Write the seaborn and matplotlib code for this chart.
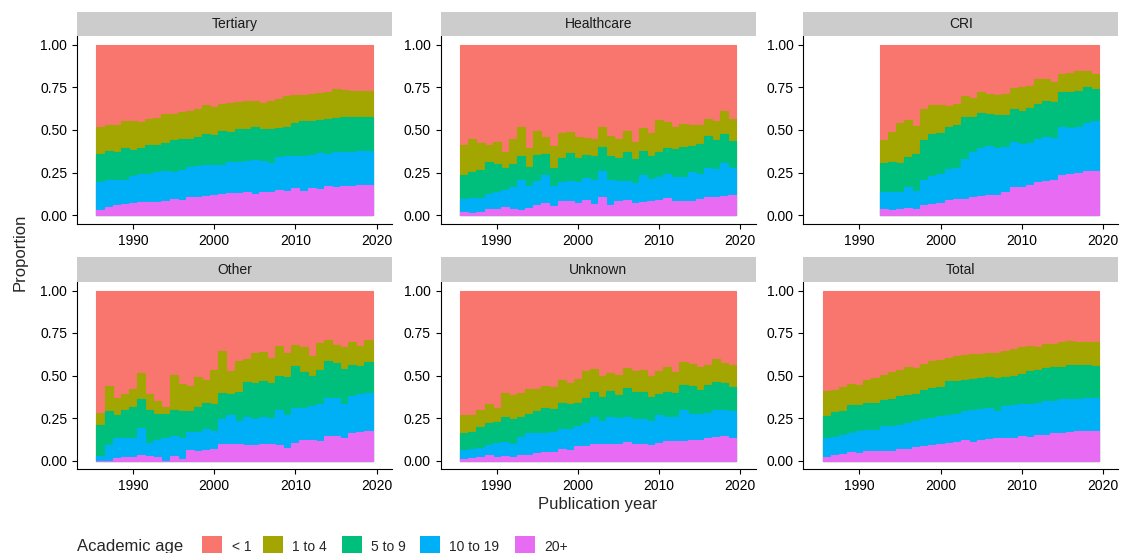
import numpy as np
import pandas as pd
import matplotlib
matplotlib.use("Agg")
import matplotlib.pyplot as plt
import seaborn as sns
from matplotlib.patches import Rectangle

# ---------------- data ----------------
years = list(range(1986, 2020))
cri_years = list(range(1993, 2020))
age_groups = ["< 1", "1 to 4", "5 to 9", "10 to 19", "20+"]
age_colors = ["#F8766D", "#A3A500", "#00BF7D", "#00B0F6", "#E76BF3"]
panel_names = ["Tertiary", "Healthcare", "CRI", "Other", "Unknown", "Total"]
x_ticks = [1990, 2000, 2010, 2020]
y_ticks = [0.0, 0.25, 0.50, 0.75, 1.00]
y_tick_labels = ["0.00", "0.25", "0.50", "0.75", "1.00"]

# cumulative upper edge of each band (the "< 1" band always reaches 1.00)
tertiary_top_1to4 = [0.52, 0.53, 0.53, 0.55, 0.55, 0.545, 0.565, 0.57, 0.595, 0.595, 0.605, 0.61, 0.62, 0.645, 0.635, 0.65, 0.66,
                     0.665, 0.67, 0.67, 0.66, 0.67, 0.68, 0.70, 0.705, 0.705, 0.71, 0.715, 0.72, 0.74, 0.735, 0.73, 0.73, 0.73]
tertiary_top_5to9 = [0.36, 0.375, 0.37, 0.395, 0.385, 0.395, 0.41, 0.415, 0.425, 0.44, 0.445, 0.45, 0.46, 0.475, 0.47, 0.495, 0.49,
                     0.505, 0.505, 0.515, 0.505, 0.505, 0.51, 0.52, 0.54, 0.55, 0.555, 0.56, 0.565, 0.57, 0.575, 0.575, 0.575, 0.575]
tertiary_top_10to19 = [0.195, 0.205, 0.205, 0.21, 0.23, 0.24, 0.245, 0.255, 0.26, 0.255, 0.265, 0.285, 0.29, 0.295, 0.295, 0.295, 0.31,
                       0.315, 0.32, 0.325, 0.32, 0.305, 0.34, 0.35, 0.35, 0.35, 0.355, 0.365, 0.36, 0.37, 0.37, 0.37, 0.375, 0.375]
tertiary_top_20plus = [0.03, 0.05, 0.06, 0.065, 0.07, 0.08, 0.08, 0.08, 0.085, 0.095, 0.09, 0.11, 0.11, 0.115, 0.12, 0.125, 0.13,
                       0.13, 0.135, 0.125, 0.14, 0.135, 0.15, 0.145, 0.16, 0.145, 0.16, 0.155, 0.17, 0.165, 0.17, 0.175, 0.18, 0.18]

healthcare_top_1to4 = [0.415, 0.445, 0.425, 0.415, 0.43, 0.37, 0.445, 0.515, 0.395, 0.495, 0.46, 0.405, 0.48, 0.49, 0.46, 0.455, 0.45,
                       0.515, 0.465, 0.445, 0.495, 0.43, 0.51, 0.48, 0.56, 0.545, 0.515, 0.535, 0.53, 0.53, 0.565, 0.55, 0.61, 0.565]
healthcare_top_5to9 = [0.235, 0.255, 0.265, 0.315, 0.30, 0.275, 0.30, 0.345, 0.285, 0.355, 0.36, 0.275, 0.335, 0.365, 0.335, 0.355, 0.345,
                       0.40, 0.345, 0.335, 0.37, 0.33, 0.375, 0.35, 0.37, 0.395, 0.39, 0.40, 0.405, 0.42, 0.465, 0.44, 0.475, 0.435]
healthcare_top_10to19 = [0.095, 0.105, 0.105, 0.125, 0.14, 0.15, 0.165, 0.21, 0.17, 0.20, 0.235, 0.17, 0.195, 0.20, 0.195, 0.22, 0.205,
                         0.26, 0.21, 0.20, 0.20, 0.19, 0.235, 0.215, 0.225, 0.245, 0.225, 0.225, 0.255, 0.24, 0.275, 0.27, 0.305, 0.275]
healthcare_top_20plus = [0.02, 0.015, 0.02, 0.035, 0.035, 0.05, 0.04, 0.03, 0.045, 0.06, 0.07, 0.055, 0.085, 0.085, 0.07, 0.09, 0.065,
                         0.11, 0.06, 0.085, 0.09, 0.075, 0.08, 0.085, 0.09, 0.10, 0.085, 0.085, 0.085, 0.095, 0.11, 0.11, 0.115, 0.12]

cri_top_1to4 = [0.44, 0.49, 0.54, 0.56, 0.525, 0.625, 0.645, 0.645, 0.64, 0.65, 0.70, 0.685, 0.72, 0.71, 0.705, 0.71, 0.745,
                0.75, 0.755, 0.80, 0.80, 0.78, 0.83, 0.835, 0.845, 0.845, 0.83]
cri_top_5to9 = [0.305, 0.31, 0.305, 0.34, 0.36, 0.44, 0.475, 0.48, 0.515, 0.53, 0.575, 0.575, 0.60, 0.595, 0.585, 0.585, 0.625,
                0.61, 0.63, 0.655, 0.67, 0.665, 0.725, 0.725, 0.73, 0.75, 0.74]
cri_top_10to19 = [0.135, 0.14, 0.14, 0.165, 0.145, 0.205, 0.23, 0.245, 0.27, 0.28, 0.33, 0.37, 0.395, 0.405, 0.395, 0.40, 0.43,
                  0.42, 0.425, 0.45, 0.46, 0.455, 0.515, 0.51, 0.52, 0.54, 0.555]
cri_top_20plus = [0.035, 0.03, 0.035, 0.045, 0.035, 0.06, 0.065, 0.07, 0.09, 0.095, 0.095, 0.11, 0.115, 0.12, 0.12, 0.135, 0.165,
                  0.165, 0.18, 0.195, 0.20, 0.205, 0.235, 0.245, 0.25, 0.26, 0.26]

other_top_1to4 = [0.28, 0.44, 0.37, 0.39, 0.42, 0.515, 0.39, 0.35, 0.315, 0.505, 0.45, 0.44, 0.49, 0.475, 0.535, 0.645, 0.525,
                  0.585, 0.595, 0.63, 0.64, 0.605, 0.675, 0.635, 0.68, 0.665, 0.615, 0.69, 0.71, 0.68, 0.665, 0.695, 0.675, 0.71]
other_top_5to9 = [0.21, 0.29, 0.265, 0.30, 0.315, 0.36, 0.30, 0.275, 0.275, 0.30, 0.29, 0.29, 0.315, 0.34, 0.335, 0.395, 0.39,
                  0.405, 0.46, 0.455, 0.465, 0.455, 0.50, 0.49, 0.555, 0.52, 0.50, 0.535, 0.585, 0.575, 0.54, 0.56, 0.555, 0.58]
other_top_10to19 = [0.025, 0.09, 0.135, 0.135, 0.13, 0.19, 0.105, 0.12, 0.13, 0.145, 0.135, 0.17, 0.165, 0.185, 0.175, 0.245, 0.265,
                    0.235, 0.255, 0.245, 0.255, 0.25, 0.295, 0.265, 0.31, 0.31, 0.32, 0.335, 0.365, 0.37, 0.33, 0.38, 0.39, 0.395]
other_top_20plus = [0.0, 0.0, 0.015, 0.02, 0.02, 0.03, 0.025, 0.02, 0.0, 0.025, 0.01, 0.06, 0.055, 0.06, 0.065, 0.095, 0.095,
                    0.095, 0.09, 0.09, 0.10, 0.095, 0.09, 0.075, 0.105, 0.12, 0.12, 0.115, 0.145, 0.145, 0.135, 0.16, 0.165, 0.175]

unknown_top_1to4 = [0.27, 0.265, 0.30, 0.335, 0.31, 0.40, 0.385, 0.40, 0.42, 0.42, 0.44, 0.435, 0.475, 0.455, 0.48, 0.525, 0.54,
                    0.50, 0.515, 0.505, 0.545, 0.525, 0.53, 0.50, 0.525, 0.55, 0.52, 0.58, 0.57, 0.55, 0.56, 0.595, 0.575, 0.56]
unknown_top_5to9 = [0.16, 0.17, 0.195, 0.22, 0.225, 0.255, 0.245, 0.255, 0.275, 0.29, 0.31, 0.305, 0.34, 0.33, 0.34, 0.37, 0.405,
                    0.375, 0.41, 0.385, 0.425, 0.405, 0.405, 0.375, 0.39, 0.405, 0.40, 0.445, 0.44, 0.415, 0.445, 0.46, 0.455, 0.43]
unknown_top_10to19 = [0.06, 0.065, 0.075, 0.09, 0.105, 0.11, 0.10, 0.14, 0.16, 0.16, 0.16, 0.165, 0.185, 0.185, 0.205, 0.22, 0.255,
                      0.235, 0.255, 0.25, 0.255, 0.245, 0.245, 0.23, 0.265, 0.255, 0.255, 0.30, 0.275, 0.275, 0.28, 0.30, 0.295, 0.29]
unknown_top_20plus = [0.01, 0.015, 0.02, 0.03, 0.02, 0.025, 0.02, 0.03, 0.035, 0.045, 0.05, 0.05, 0.065, 0.06, 0.085, 0.085, 0.095,
                      0.10, 0.095, 0.10, 0.11, 0.10, 0.10, 0.09, 0.105, 0.115, 0.115, 0.115, 0.12, 0.12, 0.13, 0.14, 0.145, 0.135]

total_top_1to4 = [0.41, 0.415, 0.43, 0.45, 0.445, 0.475, 0.485, 0.505, 0.52, 0.535, 0.55, 0.545, 0.57, 0.585, 0.59, 0.605, 0.615,
                  0.62, 0.625, 0.625, 0.63, 0.63, 0.645, 0.655, 0.67, 0.675, 0.665, 0.685, 0.685, 0.695, 0.705, 0.70, 0.70, 0.70]
total_top_5to9 = [0.26, 0.285, 0.29, 0.325, 0.325, 0.34, 0.34, 0.355, 0.36, 0.38, 0.385, 0.39, 0.415, 0.425, 0.43, 0.465, 0.465,
                  0.475, 0.48, 0.485, 0.49, 0.485, 0.49, 0.495, 0.51, 0.525, 0.53, 0.545, 0.55, 0.55, 0.56, 0.56, 0.56, 0.555]
total_top_10to19 = [0.13, 0.14, 0.15, 0.16, 0.175, 0.18, 0.18, 0.205, 0.205, 0.21, 0.22, 0.23, 0.245, 0.25, 0.26, 0.27, 0.275,
                    0.29, 0.295, 0.305, 0.31, 0.29, 0.32, 0.325, 0.33, 0.335, 0.34, 0.35, 0.35, 0.36, 0.36, 0.36, 0.37, 0.37]
total_top_20plus = [0.02, 0.035, 0.04, 0.05, 0.045, 0.055, 0.055, 0.055, 0.055, 0.07, 0.065, 0.08, 0.085, 0.09, 0.095, 0.105, 0.11,
                    0.12, 0.11, 0.12, 0.125, 0.13, 0.135, 0.13, 0.145, 0.14, 0.15, 0.15, 0.16, 0.16, 0.165, 0.175, 0.175, 0.175]

panel_data = {
    "Tertiary": (years, tertiary_top_1to4, tertiary_top_5to9, tertiary_top_10to19, tertiary_top_20plus),
    "Healthcare": (years, healthcare_top_1to4, healthcare_top_5to9, healthcare_top_10to19, healthcare_top_20plus),
    "CRI": (cri_years, cri_top_1to4, cri_top_5to9, cri_top_10to19, cri_top_20plus),
    "Other": (years, other_top_1to4, other_top_5to9, other_top_10to19, other_top_20plus),
    "Unknown": (years, unknown_top_1to4, unknown_top_5to9, unknown_top_10to19, unknown_top_20plus),
    "Total": (years, total_top_1to4, total_top_5to9, total_top_10to19, total_top_20plus),
}

# ---------------- style ----------------
sns.set_style("ticks")
plt.rcParams["font.family"] = ["Liberation Sans", "DejaVu Sans"]
plt.rcParams["axes.linewidth"] = 0.8
plt.rcParams["xtick.major.width"] = 0.8
plt.rcParams["ytick.major.width"] = 0.8
plt.rcParams["xtick.major.size"] = 3.5
plt.rcParams["ytick.major.size"] = 3.5
plt.rcParams["xtick.color"] = "black"
plt.rcParams["ytick.color"] = "black"
plt.rcParams["axes.edgecolor"] = "black"

W, H = 1122, 553
fig = plt.figure(figsize=(W / 100, H / 100), dpi=100)

col_left = [77, 440.7, 803.3]
panel_w = 315
rows = [(36, 224, 12.3), (282, 469, 257.3)]  # (axes top, axes bottom, strip top)

for i, name in enumerate(panel_names):
    r, c = divmod(i, 3)
    top, bottom, strip_top = rows[r]
    left = col_left[c]
    ax = fig.add_axes([left / W, 1 - bottom / H, panel_w / W, (bottom - top) / H])

    yrs, t14, t59, t1019, t20 = panel_data[name]
    tops = {"< 1": [1.0] * len(yrs), "1 to 4": t14, "5 to 9": t59, "10 to 19": t1019, "20+": t20}
    for grp, col in zip(age_groups, age_colors):
        df = pd.DataFrame({"year": yrs, "top": tops[grp]})
        sns.barplot(data=df, x="year", y="top", native_scale=True, orient="x", width=1,
                    color=col, saturation=1, errorbar=None, edgecolor=col, linewidth=0.8, ax=ax)

    ax.set_xlim(1983.1, 2021.9)
    ax.set_ylim(-0.05, 1.05)
    ax.set_xticks(x_ticks)
    ax.set_xticklabels([str(t) for t in x_ticks], fontsize=10)
    ax.set_yticks(y_ticks)
    ax.set_yticklabels(y_tick_labels, fontsize=10)
    ax.tick_params(axis="x", pad=3.5)
    ax.tick_params(axis="y", pad=3.5)
    ax.set_xlabel("")
    ax.set_ylabel("")
    for s in ["top", "right"]:
        ax.spines[s].set_visible(False)

    # facet strip
    fig.add_artist(Rectangle((left / W, 1 - top / H), panel_w / W, (top - strip_top) / H,
                             transform=fig.transFigure, facecolor="#CCCCCC", edgecolor="none"))
    fig.text((left + panel_w / 2) / W, 1 - (top + strip_top) / 2 / H, name,
             ha="center", va="center", fontsize=10, color="#1A1A1A")

# axis titles
fig.text(20 / W, 1 - 252 / H, "Proportion", rotation=90, ha="center", va="center", fontsize=12)
fig.text(597.5 / W, 1 - 504 / H, "Publication year", ha="center", va="center", fontsize=12)

# legend
fig.text(77.3 / W, 1 - 551 / H, "Academic age", ha="left", va="baseline", fontsize=12)
key_x = [202, 263, 341.7, 420, 515]
label_x = [231.7, 292, 370.7, 449, 544]
for kx, lx, grp, col in zip(key_x, label_x, age_groups, age_colors):
    fig.add_artist(Rectangle((kx / W, 1 - 556 / H), 20 / W, 20.3 / H,
                             transform=fig.transFigure, facecolor=col, edgecolor="none"))
    fig.text(lx / W, 1 - 551 / H, grp, ha="left", va="baseline", fontsize=10)

fig.savefig("out.png", dpi=100)
